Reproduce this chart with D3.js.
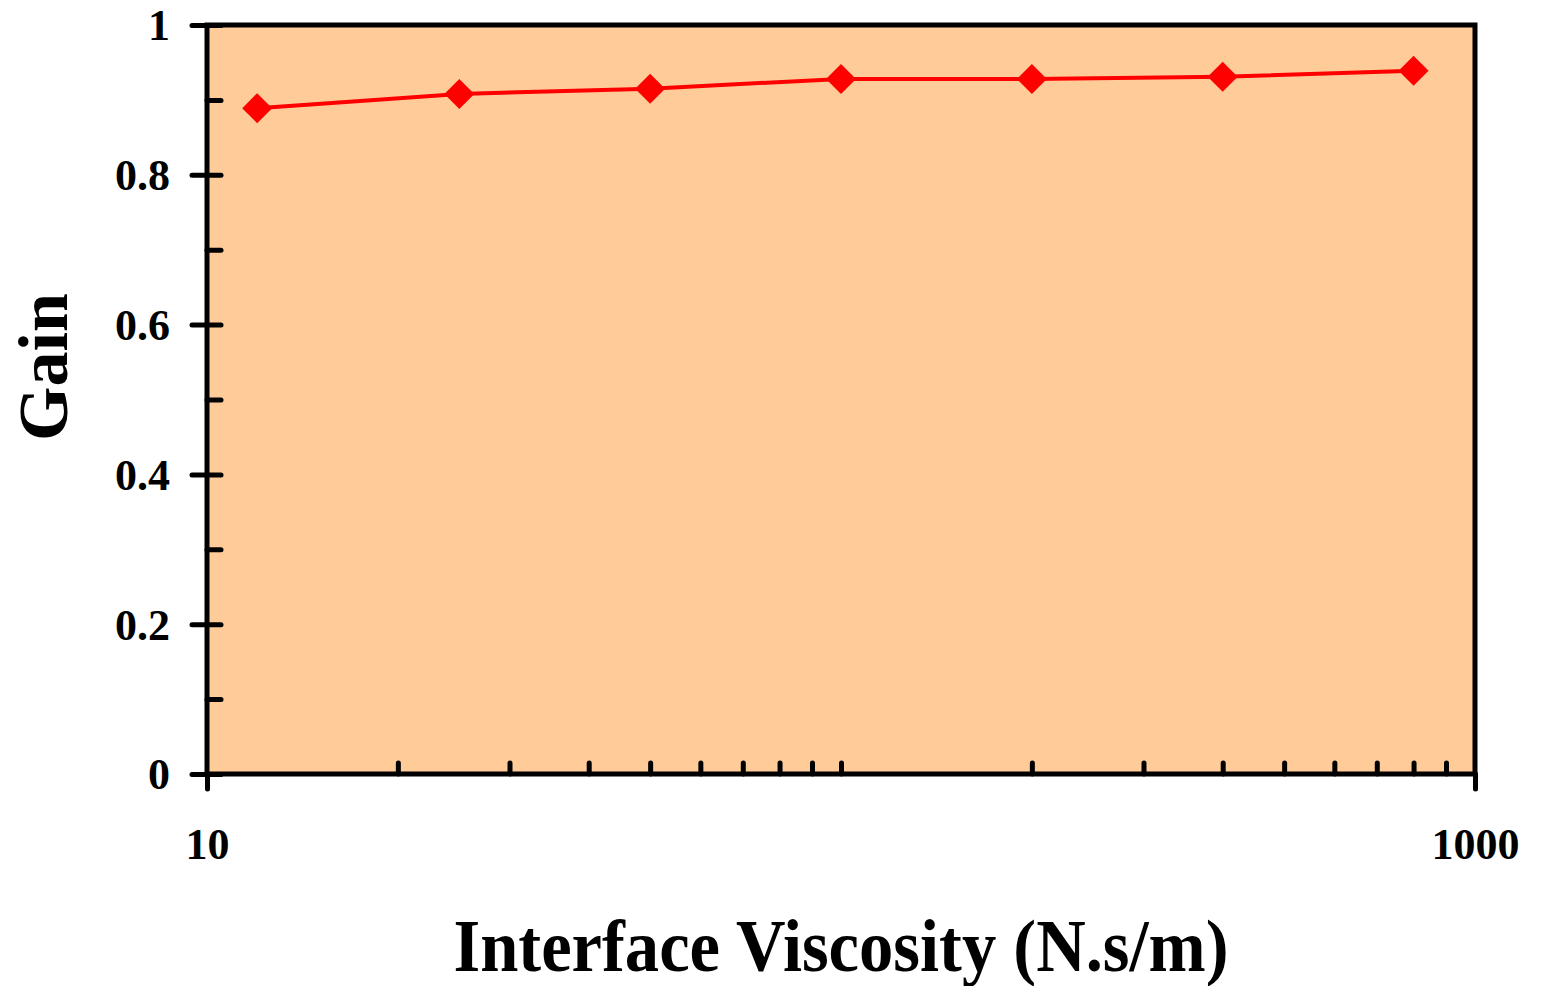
<!DOCTYPE html>
<html>
  <head>
    <title>Gain vs Interface Viscosity</title>
    <script src="https://d3js.org/d3.v7.min.js"></script>
    <style>
      body { margin: 0; background: #fff; }
      text { font-family: "Liberation Serif", "Times New Roman", serif; font-weight: bold; fill: #000; }
    </style>
  </head>
  <body>
    <div id="chart"></div>
    <script>
      // Data
      var viscosity = [12, 25, 50, 100, 200, 400, 800];
      var gain = [0.889, 0.908, 0.915, 0.928, 0.928, 0.931, 0.939];

      var yMajor = [0, 0.2, 0.4, 0.6, 0.8, 1];
      var yMinor = [0.1, 0.3, 0.5, 0.7, 0.9];
      var xMajor = [10, 1000];
      var xMinor = [20, 30, 40, 50, 60, 70, 80, 90, 100, 200, 300, 400, 500, 600, 700, 800, 900];

      var width = 1543, height = 986;
      var plotLeft = 207, plotRight = 1475, plotTop = 25, plotBottom = 774;

      var svg = d3.select("#chart")
        .append("svg")
        .attr("width", width)
        .attr("height", height);

      var xScale = d3.scaleLog().domain([10, 1000]).range([plotLeft, plotRight]);
      var yScale = d3.scaleLinear().domain([0, 1]).range([plotBottom, plotTop]);

      // Plot background and frame
      svg.append("rect")
        .attr("x", plotLeft)
        .attr("y", plotTop)
        .attr("width", plotRight - plotLeft)
        .attr("height", plotBottom - plotTop)
        .attr("fill", "#FFCC99")
        .attr("stroke", "#000")
        .attr("stroke-width", 5);

      function styleAxis(g) {
        g.select(".domain").remove();
        g.selectAll(".tick line")
          .attr("stroke", "#000")
          .attr("stroke-width", 5)
          .attr("stroke-linecap", "round");
      }

      // Y axis: major ticks outside with labels, minor ticks inside
      var yAxis = svg.append("g")
        .attr("transform", "translate(" + plotLeft + ",0)")
        .call(d3.axisLeft(yScale).tickValues(yMajor).tickSize(15).tickPadding(22)
          .tickFormat(function(d) { return String(d); }));
      styleAxis(yAxis);
      yAxis.selectAll("text").attr("font-size", 44).attr("dy", "0.34em");

      var yIn = svg.append("g")
        .attr("transform", "translate(" + plotLeft + ",0)")
        .call(d3.axisRight(yScale).tickValues(yMajor.concat(yMinor)).tickSize(14).tickFormat(""));
      styleAxis(yIn);

      // X axis (log): major ticks outside with labels, minor ticks inside
      var xAxis = svg.append("g")
        .attr("transform", "translate(0," + plotBottom + ")")
        .call(d3.axisBottom(xScale).tickValues(xMajor).tickSize(15)
          .tickFormat(function(d) { return String(d); }));
      styleAxis(xAxis);
      xAxis.selectAll("text").attr("font-size", 44).attr("y", 85).attr("dy", 0);

      var xIn = svg.append("g")
        .attr("transform", "translate(0," + plotBottom + ")")
        .call(d3.axisTop(xScale).tickValues(xMinor).tickSize(11).tickFormat(""));
      styleAxis(xIn);

      // Series line
      var pts = viscosity.map(function(v, i) { return { x: v, y: gain[i] }; });
      svg.append("path")
        .datum(pts)
        .attr("fill", "none")
        .attr("stroke", "#FF0000")
        .attr("stroke-width", 4)
        .attr("d", d3.line()
          .x(function(d) { return xScale(d.x); })
          .y(function(d) { return yScale(d.y); }));

      // Diamond markers
      svg.selectAll(".marker")
        .data(pts)
        .enter()
        .append("path")
        .attr("class", "marker")
        .attr("fill", "#FF0000")
        .attr("transform", function(d) {
          return "translate(" + xScale(d.x) + "," + yScale(d.y) + ")";
        })
        .attr("d", "M0,-15L15,0L0,15L-15,0Z");

      // Axis titles
      svg.append("text")
        .attr("x", (plotLeft + plotRight) / 2)
        .attr("y", 971)
        .attr("text-anchor", "middle")
        .attr("font-size", 74)
        .attr("textLength", 775)
        .attr("lengthAdjust", "spacingAndGlyphs")
        .text("Interface Viscosity (N.s/m)");

      svg.append("text")
        .attr("transform", "translate(67,367) rotate(-90)")
        .attr("text-anchor", "middle")
        .attr("font-size", 70)
        .text("Gain");
    </script>
  </body>
</html>
